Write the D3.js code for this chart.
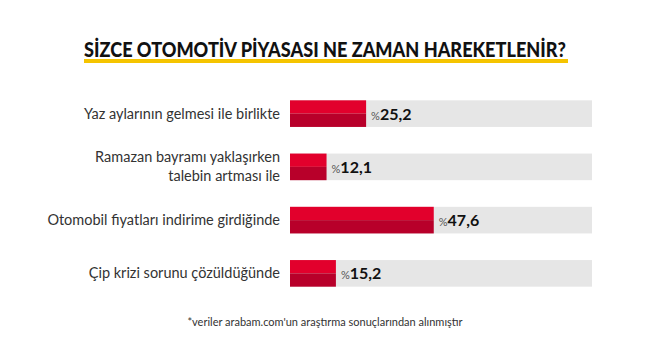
<!DOCTYPE html>
<html><head><meta charset="utf-8">
<script src="https://cdn.jsdelivr.net/npm/d3@7"></script>
<style>body{margin:0;background:#fff}svg{display:block}</style>
</head><body>
<svg id="c" width="650" height="360"></svg>
<script>
const categories = [["Yaz aylarının gelmesi ile birlikte"],["Ramazan bayramı yaklaşırken","talebin artması ile"],["Otomobil fiyatları indirime girdiğinde"],["Çip krizi sorunu çözüldüğünde"]];
const values = [25.2, 12.1, 47.6, 15.2];
const valueLabels = ["25,2","12,1","47,6","15,2"];
const title = "SİZCE OTOMOTİV PİYASASI NE ZAMAN HAREKETLENİR?";
const note = "*veriler arabam.com'un araştırma sonuçlarından alınmıştır";

const svg = d3.select("#c");
const font = "Lato, 'Noto Sans', sans-serif";
const x = d3.scaleLinear().domain([0,100]).range([290,592]);
const y = d3.scaleBand().domain(d3.range(values.length)).range([87,300]).paddingInner(0.5).paddingOuter(0.25);

// title
const t = svg.append("text").attr("x",325).attr("y",57).attr("text-anchor","middle")
  .attr("font-family",font).attr("font-weight",900).attr("font-size",20).attr("fill","#111")
  .attr("textLength",482).attr("lengthAdjust","spacingAndGlyphs").text(title);
svg.insert("rect","text").attr("x",84).attr("y",59).attr("width",484).attr("height",4).attr("fill","#f5c400");

const g = svg.append("g");
const row = g.selectAll("g.row").data(values).join("g").attr("class","row");
row.append("rect").attr("x",x(0)).attr("y",(d,i)=>y(i)).attr("width",x(100)-x(0)).attr("height",y.bandwidth()).attr("fill","#e6e6e6");
row.append("rect").attr("x",x(0)).attr("y",(d,i)=>y(i)).attr("width",d=>x(d)-x(0)).attr("height",y.bandwidth()/2).attr("fill","#e2002c");
row.append("rect").attr("x",x(0)).attr("y",(d,i)=>y(i)+y.bandwidth()/2).attr("width",d=>x(d)-x(0)).attr("height",y.bandwidth()/2).attr("fill","#b8002a");

const lab = row.append("text").attr("x",d=>x(d)+5).attr("y",(d,i)=>y(i)+y.bandwidth()/2+6).attr("font-family",font);
lab.append("tspan").attr("font-size",11).attr("fill","#555").text("%");
lab.append("tspan").attr("font-size",16).attr("font-weight",700).attr("fill","#111").text((d,i)=>valueLabels[i]);

row.each(function(d,i){
  const lines = categories[i];
  const cy = y(i)+y.bandwidth()/2;
  const lh = 19;
  const tt = d3.select(this).append("text").attr("text-anchor","end").attr("font-family",font).attr("font-size",14.5).attr("fill","#333");
  lines.forEach((l,j)=>{
    tt.append("tspan").attr("x",280).attr("y",cy + 5 + (j-(lines.length-1)/2)*lh).text(l);
  });
});

svg.append("text").attr("x",325).attr("y",326).attr("text-anchor","middle").attr("font-family",font).attr("font-size",11).attr("fill","#333").text(note);
</script>
</body></html>
